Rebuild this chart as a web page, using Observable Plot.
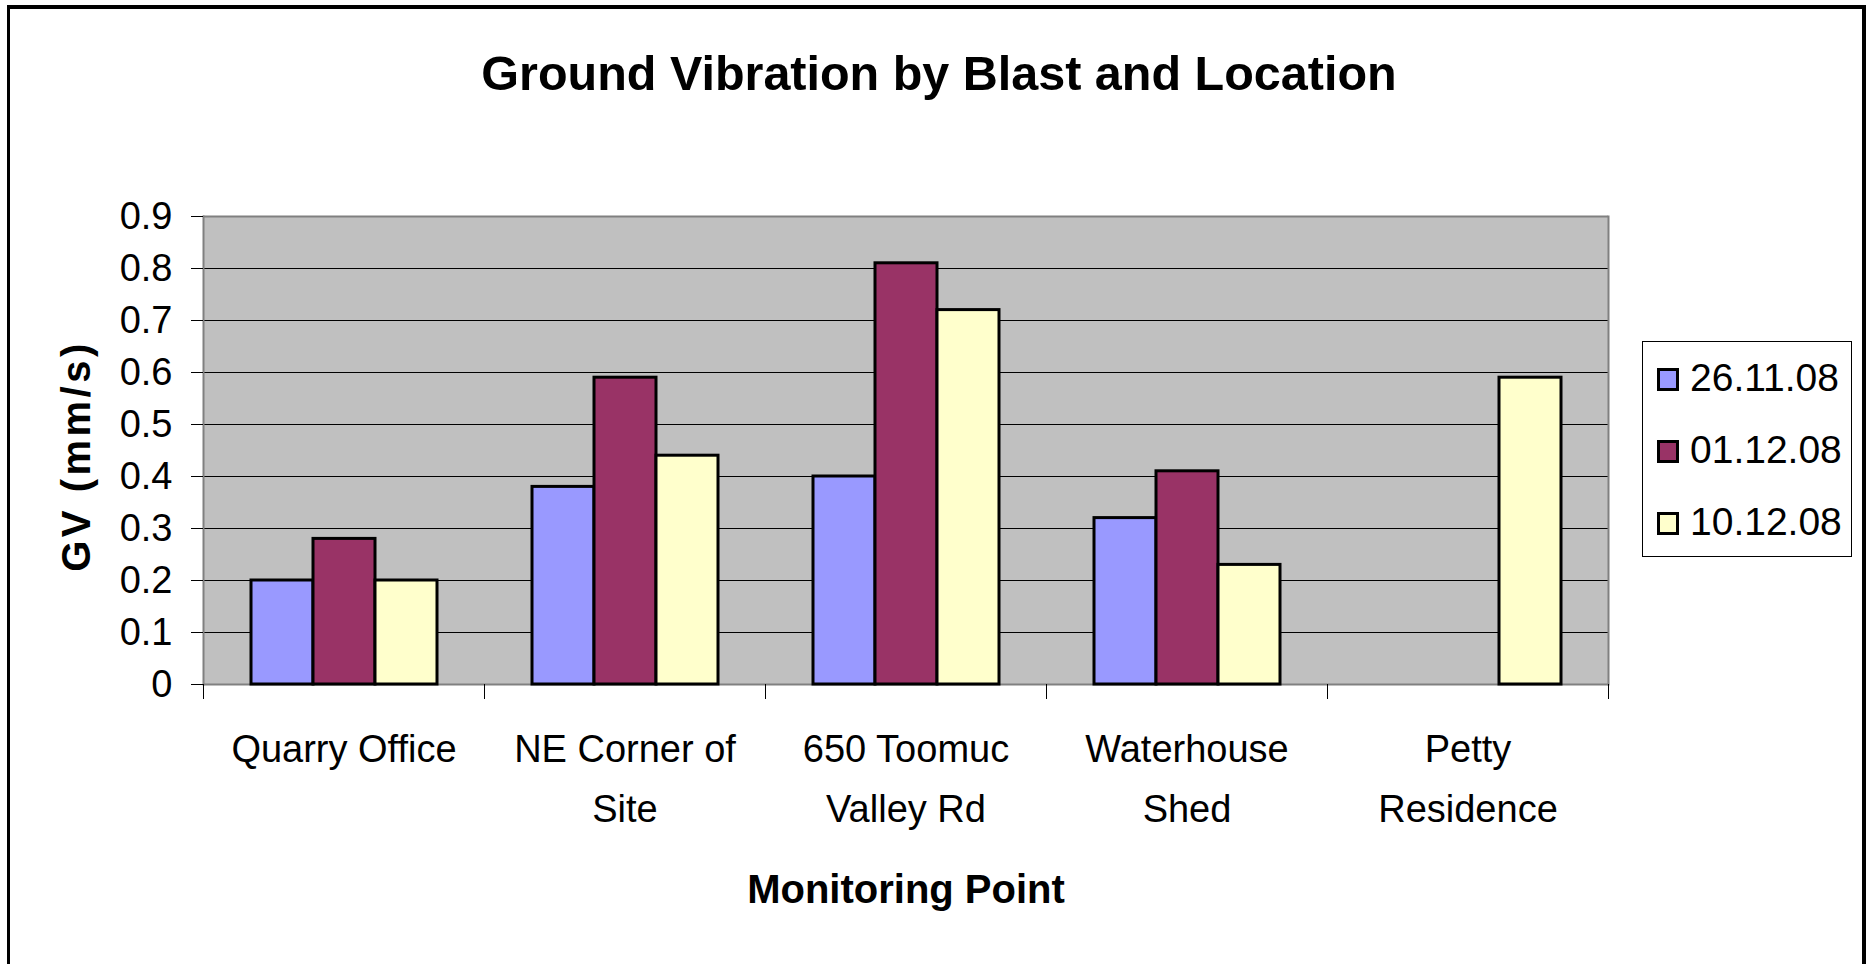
<!DOCTYPE html>
<html>
<head>
<meta charset="utf-8">
<script src="https://cdn.jsdelivr.net/npm/d3@7"></script>
<script src="https://cdn.jsdelivr.net/npm/@observablehq/plot@0.6"></script>
<style>
  html, body { margin: 0; padding: 0; overflow: hidden; background: #fff; }
  #root { position: relative; width: 1867px; height: 964px; overflow: hidden; background: #fff;
          font-family: "Liberation Sans", Arial, sans-serif; color: #000; }
  #root svg { position: absolute; left: 0; top: 0; }
  .title { position: absolute; left: 939px; top: 49px; transform: translateX(-50%); white-space: nowrap;
           font-size: 48.5px; line-height: 48px; font-weight: bold; }
  .xtitle { position: absolute; left: 906px; top: 869px; transform: translateX(-50%); white-space: nowrap;
            font-size: 40px; line-height: 40px; font-weight: bold; }
  .ytitle { position: absolute; left: 76px; top: 456px; transform: translate(-50%, -50%) rotate(-90deg);
            white-space: nowrap; font-size: 40px; line-height: 40px; font-weight: bold; letter-spacing: 3.5px; }
  .legend { position: absolute; left: 1642px; top: 341px; width: 210px; height: 216px; box-sizing: border-box;
            border: 1px solid #000; background: #fff; }
  .legend .row { height: 72px; line-height: 72px; font-size: 39px; padding-left: 14px; white-space: nowrap; }
  .legend .sw { display: inline-block; width: 22px; height: 23px; box-sizing: border-box; border: 3px solid #000;
                margin-right: 11px; vertical-align: baseline; }
  .border { position: absolute; left: 7px; top: 5px; width: 1859px; height: 1100px; box-sizing: border-box;
            border-top: 4px solid #000; border-left: 3px solid #000; border-right: 4px solid #000; pointer-events: none; }
</style>
</head>
<body>
<div id="root"></div>
<script>
// ---- data ----
const title = "Ground Vibration by Blast and Location";
const xTitle = "Monitoring Point";
const yTitle = "GV (mm/s)";
const categories = ["Quarry Office", "NE Corner of Site", "650 Toomuc Valley Rd", "Waterhouse Shed", "Petty Residence"];
const series = ["26.11.08", "01.12.08", "10.12.08"];
const values261108 = [0.20, 0.38, 0.40, 0.32, null];
const values011208 = [0.28, 0.59, 0.81, 0.41, null];
const values101208 = [0.20, 0.44, 0.72, 0.23, 0.59];
const yTicks = [0, 0.1, 0.2, 0.3, 0.4, 0.5, 0.6, 0.7, 0.8, 0.9];
const yTickLabels = ["0", "0.1", "0.2", "0.3", "0.4", "0.5", "0.6", "0.7", "0.8", "0.9"];
const gridTicks = [0.1, 0.2, 0.3, 0.4, 0.5, 0.6, 0.7, 0.8];
const colors = ["#9999FF", "#993366", "#FFFFCC"];

// ---- build table ----
const seriesValues = [values261108, values011208, values101208];
const rows = [];
categories.forEach((c, i) => {
  series.forEach((s, j) => {
    const v = seriesValues[j][i];
    if (v != null) rows.push({location: c, series: s, value: v});
  });
});

const plotHeight = 468; // height of plotting area (964 - 216 - 280)

const chart = Plot.plot({
  width: 1867,
  height: 964,
  marginTop: 216,
  marginBottom: 280,
  marginLeft: 203,
  marginRight: 259,
  style: {fontFamily: '"Liberation Sans", Arial, sans-serif', fontSize: "38px", color: "#000", background: "transparent", overflow: "visible"},
  fx: {domain: categories, paddingInner: 0, paddingOuter: 0, label: null},
  x: {domain: series, paddingInner: 0, paddingOuter: 0.75, axis: null},
  y: {domain: [0, 0.9], axis: null},
  color: {domain: series, range: colors},
  marks: [
    Plot.frame({fill: "#C0C0C0", stroke: "none", shapeRendering: "crispEdges"}),
    Plot.gridY(gridTicks, {stroke: "#000", strokeOpacity: 1, strokeWidth: 1}),
    Plot.ruleY([0, 0.9], {stroke: "#808080", strokeWidth: 2}),
    Plot.frame({anchor: "left", facetAnchor: "left", stroke: "#808080", strokeWidth: 2}),
    Plot.frame({anchor: "right", facetAnchor: "right", stroke: "#808080", strokeWidth: 2}),
    Plot.frame({anchor: "left", insetTop: plotHeight, insetBottom: -14, stroke: "#000", strokeWidth: 1}),
    Plot.frame({anchor: "right", facetAnchor: "right", insetTop: plotHeight, insetBottom: -14, stroke: "#000", strokeWidth: 1}),
    Plot.barY(rows, {fx: "location", x: "series", y: "value", fill: "series", stroke: "#000", strokeWidth: 3}),
    Plot.axisY(yTicks, {anchor: "left", tickSize: 12, tickPadding: 19, fontSize: 38, label: null, stroke: "#000",
      tickFormat: (d) => yTickLabels[yTicks.indexOf(d)]}),
    Plot.axisFx({anchor: "bottom", tickSize: 0, tickPadding: 35, fontSize: 38, lineWidth: 6.6, lineHeight: 60 / 38, label: null})
  ]
});

const root = document.getElementById("root");
root.appendChild(chart);

function addDiv(cls, text) {
  const d = document.createElement("div");
  d.className = cls;
  if (text != null) d.textContent = text;
  root.appendChild(d);
  return d;
}
addDiv("title", title);
addDiv("xtitle", xTitle);
addDiv("ytitle", yTitle);
const legend = addDiv("legend");
series.forEach((s, i) => {
  const row = document.createElement("div");
  row.className = "row";
  const sw = document.createElement("span");
  sw.className = "sw";
  sw.style.background = colors[i];
  row.appendChild(sw);
  row.appendChild(document.createTextNode(s));
  legend.appendChild(row);
});
addDiv("border");
</script>
</body>
</html>
